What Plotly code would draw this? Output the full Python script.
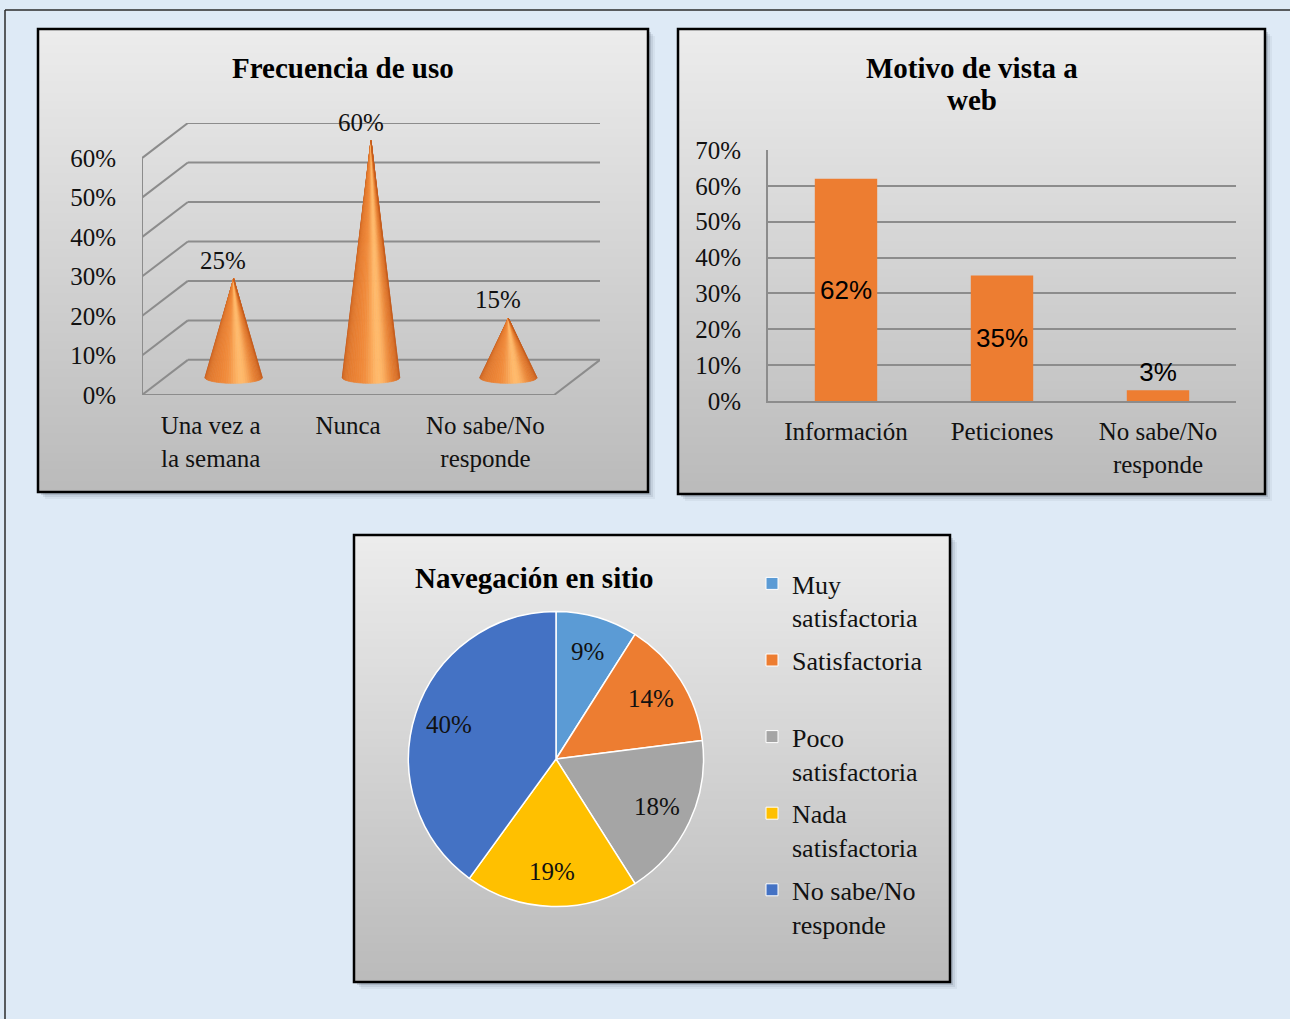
import math
import plotly.graph_objects as go

W, H = 1290, 1019


def px(x):
    return x / W


def py(y):
    return 1 - y / H


# ---------------- data ----------------
freq_title = "Frecuencia de uso"
freq_cats = ["Una vez a<br>la semana", "Nunca", "No sabe/No<br>responde"]
freq_vals = [25, 60, 15]
freq_ticks = [0, 10, 20, 30, 40, 50, 60]
freq_ticktext = ["0%", "10%", "20%", "30%", "40%", "50%", "60%"]

motivo_title_lines = ["Motivo de vista a", "web"]
motivo_cats = ["Información", "Peticiones", "No sabe/No<br>responde"]
motivo_vals = [62, 35, 3]
motivo_ticks = [0, 10, 20, 30, 40, 50, 60, 70]
motivo_ticktext = ["0%", "10%", "20%", "30%", "40%", "50%", "60%", "70%"]

nav_title = "Navegación en sitio"
nav_labels = ["Muy<br>satisfactoria", "Satisfactoria<br>\u00a0", "Poco<br>satisfactoria",
              "Nada<br>satisfactoria", "No sabe/No<br>responde"]
nav_vals = [9, 14, 18, 19, 40]
nav_colors = ["#5b9bd5", "#ed7d31", "#a5a5a5", "#ffc000", "#4472c4"]

SERIF = "Liberation Serif, Times New Roman, serif"
SANS = "Liberation Sans, Arial, sans-serif"
TXT = "#111111"

fig = go.Figure()
shapes = []
annotations = []

# ---------------- page & panels ----------------
shapes.append(dict(type="line", xref="paper", yref="paper", x0=px(5), x1=px(1290), y0=py(10), y1=py(10),
                   line=dict(color="#2b2b2b", width=1.5), layer="below"))
shapes.append(dict(type="line", xref="paper", yref="paper", x0=px(5), x1=px(5), y0=py(10), y1=py(1019),
                   line=dict(color="#2b2b2b", width=1.5), layer="below"))

panels = [(38, 29, 648, 492), (678, 29, 1265, 494), (354, 535, 950, 982)]
top_c, bot_c = (236, 236, 236), (186, 186, 186)
for (x0, y0, x1, y1) in panels:
    # soft drop shadow
    for off, alpha in [(7, 0.06), (5, 0.10), (3, 0.18)]:
        shapes.append(dict(type="rect", xref="paper", yref="paper",
                           x0=px(x0 + off), x1=px(x1 + off), y0=py(y0 + off), y1=py(y1 + off),
                           fillcolor=f"rgba(60,70,90,{alpha})", line=dict(width=0), layer="below"))
    # vertical gradient fill
    step = 4
    y = y0
    while y < y1:
        t = (y - y0) / (y1 - y0)
        c = tuple(round(a + (b - a) * t) for a, b in zip(top_c, bot_c))
        shapes.append(dict(type="rect", xref="paper", yref="paper",
                           x0=px(x0), x1=px(x1), y0=py(y), y1=py(min(y + step + 0.6, y1)),
                           fillcolor=f"rgb{c}", line=dict(width=0), layer="below"))
        y += step
    shapes.append(dict(type="rect", xref="paper", yref="paper", x0=px(x0), x1=px(x1), y0=py(y0), y1=py(y1),
                       line=dict(color="#000000", width=2.5), fillcolor="rgba(0,0,0,0)", layer="below"))

# ---------------- panel 1: 3D cones ----------------
DX = 0.167   # depth offset in category units
DZ = 4.45    # depth offset in percent units
GRID = "#8c8c8c"
xl, xr = -0.5, 2.5
for v in freq_ticks:
    # back wall
    shapes.append(dict(type="line", xref="x", yref="y", x0=xl + DX, x1=xr + DX, y0=v + DZ, y1=v + DZ,
                       line=dict(color=GRID, width=2), layer="below"))
    # side wall
    shapes.append(dict(type="line", xref="x", yref="y", x0=xl - DX, x1=xl + DX, y0=v - DZ, y1=v + DZ,
                       line=dict(color=GRID, width=2), layer="below"))
# front vertical edge
shapes.append(dict(type="line", xref="x", yref="y", x0=xl - DX, x1=xl - DX, y0=-DZ, y1=freq_ticks[-1] - DZ,
                   line=dict(color=GRID, width=2), layer="below"))
# floor front and right edges
shapes.append(dict(type="line", xref="x", yref="y", x0=xl - DX, x1=xr - DX, y0=-DZ, y1=-DZ,
                   line=dict(color=GRID, width=2), layer="below"))
shapes.append(dict(type="line", xref="x", yref="y", x0=xr - DX, x1=xr + DX, y0=-DZ, y1=DZ,
                   line=dict(color=GRID, width=2), layer="below"))


def lerp(a, b, t):
    return tuple(round(p + (q - p) * t) for p, q in zip(a, b))


def cone_color(phi):
    dark, mid, hi = (188, 84, 24), (240, 136, 56), (255, 186, 108)
    base = lerp(dark, mid, max(0.0, math.cos(phi)) ** 0.6)
    h = max(0.0, math.cos(phi - 0.28)) ** 14
    c = lerp(base, hi, h)
    return f"rgb{c}"


CW, CB, NF = 0.21, 1.5, 36
for i, v in enumerate(freq_vals):
    for k in range(NF):
        p1 = -math.pi / 2 + math.pi * k / NF
        p2 = -math.pi / 2 + math.pi * (k + 1) / NF
        col = cone_color((p1 + p2) / 2)
        xs = [i, i + CW * math.sin(p1), i + CW * math.sin(p2), i]
        ys = [v, -CB * math.cos(p1), -CB * math.cos(p2), v]
        fig.add_trace(go.Scatter(x=xs, y=ys, mode="lines", fill="toself", fillcolor=col,
                                 line=dict(color=col, width=0.7), hoverinfo="skip", showlegend=False,
                                 xaxis="x", yaxis="y"))
    annotations.append(dict(xref="x", yref="y", x=i - 0.075, y=v, yanchor="bottom", yshift=3,
                            text=f"{v}%", showarrow=False, font=dict(family=SERIF, size=25, color=TXT)))

annotations.append(dict(xref="paper", yref="paper", x=px(343), y=py(68), text=f"<b>{freq_title}</b>",
                        showarrow=False, xanchor="center", yanchor="middle",
                        font=dict(family=SERIF, size=29, color="#000000")))

# ---------------- panel 2: bars ----------------
fig.add_trace(go.Bar(x=motivo_cats, y=motivo_vals, xaxis="x2", yaxis="y2", width=0.4,
                     marker=dict(color="#ed7d31", line=dict(width=0)),
                     text=[f"{v}%" for v in motivo_vals],
                     textposition=["inside", "inside", "outside"], insidetextanchor="middle",
                     textangle=0, cliponaxis=False,
                     textfont=dict(family=SANS, size=26, color="#000000"),
                     hoverinfo="skip", showlegend=False))
for j, line in enumerate(motivo_title_lines):
    annotations.append(dict(xref="paper", yref="paper", x=px(972), y=py(68 + 32 * j), text=f"<b>{line}</b>",
                            showarrow=False, xanchor="center", yanchor="middle",
                            font=dict(family=SERIF, size=29, color="#000000")))

# ---------------- panel 3: pie ----------------
PCX, PCY, PR = 556, 759, 147.5
fig.add_trace(go.Pie(labels=nav_labels, values=nav_vals, sort=False, direction="clockwise", rotation=0,
                     marker=dict(colors=nav_colors, line=dict(color="#ffffff", width=1.5)),
                     textinfo="none", hoverinfo="skip", showlegend=False,
                     domain=dict(x=[px(PCX - PR), px(PCX + PR)], y=[py(PCY + PR), py(PCY - PR)])))
# legend entries for the pie slices, one group each so the spacing can be set
for k, (lab, col) in enumerate(zip(nav_labels, nav_colors)):
    fig.add_trace(go.Scatter(x=[None], y=[None], mode="markers", name=lab, legendgroup=f"nav{k}",
                             marker=dict(symbol="square", size=12, color=col,
                                         line=dict(color="#ffffff", width=1)),
                             showlegend=True, hoverinfo="skip", xaxis="x", yaxis="y"))
total = sum(nav_vals)
cum = 0
for v in nav_vals:
    mid = 2 * math.pi * (cum + v / 2) / total
    cum += v
    lx = PCX + 0.76 * PR * math.sin(mid)
    ly = PCY - 0.76 * PR * math.cos(mid)
    annotations.append(dict(xref="paper", yref="paper", x=px(lx), y=py(ly), text=f"{v}%", showarrow=False,
                            xanchor="center", yanchor="middle", font=dict(family=SERIF, size=25, color=TXT)))
annotations.append(dict(xref="paper", yref="paper", x=px(534), y=py(578), text=f"<b>{nav_title}</b>",
                        showarrow=False, xanchor="center", yanchor="middle",
                        font=dict(family=SERIF, size=29, color="#000000")))

# ---------------- layout ----------------
axis_font = dict(family=SERIF, size=25, color=TXT)
fig.update_layout(
    width=W, height=H, autosize=False,
    margin=dict(l=0, r=0, t=0, b=0, pad=0, autoexpand=False),
    paper_bgcolor="#deeaf6", plot_bgcolor="rgba(0,0,0,0)",
    showlegend=True,
    legend=dict(x=px(752), y=py(560), xanchor="left", yanchor="top", bgcolor="rgba(0,0,0,0)",
                font=dict(family=SERIF, size=26, color=TXT), valign="top", traceorder="grouped",
                tracegroupgap=6, itemclick=False, itemdoubleclick=False),
    xaxis=dict(domain=[px(142), px(600)], range=[xl - DX, xr + DX], automargin=False,
               tickmode="array", tickvals=[i - DX for i in range(len(freq_cats))], ticktext=freq_cats,
               showgrid=False, zeroline=False, showline=False, ticks="outside", ticklen=8,
               tickcolor="rgba(0,0,0,0)", tickfont=axis_font, fixedrange=True),
    yaxis=dict(domain=[py(395), py(123)], range=[-DZ, freq_ticks[-1] + DZ], automargin=False,
               tickmode="array", tickvals=[t - DZ for t in freq_ticks], ticktext=freq_ticktext,
               showgrid=False, zeroline=False, showline=False, ticks="outside", ticklen=20,
               tickcolor="rgba(0,0,0,0)", tickfont=axis_font, fixedrange=True),
    xaxis2=dict(domain=[px(768), px(1236)], anchor="y2", showgrid=False, zeroline=False, automargin=False,
                showline=True, linecolor=GRID, linewidth=2, ticks="outside", ticklen=7,
                tickcolor="rgba(0,0,0,0)", tickfont=axis_font, fixedrange=True),
    yaxis2=dict(domain=[py(401), py(150)], anchor="x2", range=[0, 70], tickmode="array", automargin=False,
                tickvals=motivo_ticks, ticktext=motivo_ticktext, showgrid=True, gridcolor=GRID, gridwidth=2,
                zeroline=False, showline=True, linecolor=GRID, linewidth=2, ticks="outside", ticklen=20,
                tickcolor="rgba(0,0,0,0)", tickfont=axis_font, fixedrange=True),
    bargap=0.6,
    shapes=shapes,
    annotations=annotations,
)

fig.write_html("out.html", config={"displayModeBar": False})
